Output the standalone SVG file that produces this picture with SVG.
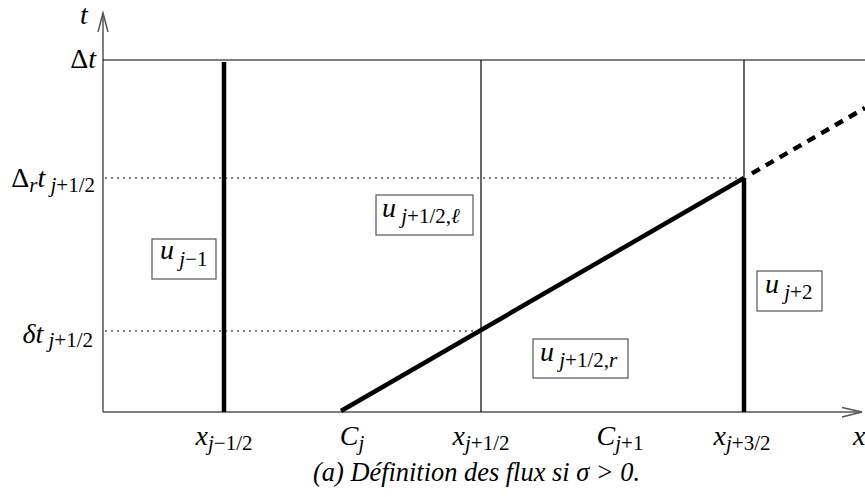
<svg xmlns="http://www.w3.org/2000/svg" width="865" height="497" viewBox="0 0 865 497">
<style>
.axis{stroke:#555;stroke-width:1.5;fill:none}
.thin{stroke:#000;stroke-width:1.2;fill:none}
.thick{stroke:#000;stroke-width:4.5;fill:none}
.dot{stroke:#000;stroke-width:1;stroke-dasharray:2 4;fill:none}
.dash{stroke:#000;stroke-width:4.5;stroke-dasharray:9 7;fill:none}
.box{fill:#fff;stroke:#555;stroke-width:1.2}
.L{font-family:'Liberation Serif',serif;font-size:28px}
.sb{font-size:21px}
.it{font-style:italic}
</style>
<rect width="865" height="497" fill="#fff"/>
<g id="connectors">
<line class="axis" x1="103" y1="412" x2="103" y2="13"/>
<polyline class="axis" points="98,32 103,13 108,32"/>
<line class="axis" x1="103" y1="412" x2="862" y2="412"/>
<polyline class="axis" points="842,407.5 862,412 842,417"/>
<line class="thin" x1="103" y1="60" x2="865" y2="60"/>
<line class="dot" x1="105" y1="178" x2="744" y2="178"/>
<line class="dot" x1="105" y1="331" x2="481" y2="331"/>
<line class="thin" x1="481" y1="60" x2="481" y2="412"/>
<line class="thin" x1="744" y1="60" x2="744" y2="178"/>
<line class="thick" x1="224" y1="62" x2="224" y2="412"/>
<line class="thick" x1="744" y1="178" x2="744" y2="412"/>
<line class="thick" x1="341" y1="411" x2="744" y2="178"/>
<line class="dash" x1="752" y1="173.4" x2="865" y2="108"/>
</g>
<g id="labels" class="L">
<text class="it" x="80" y="24">t</text>
<text x="96" y="68" text-anchor="end">Δ<tspan class="it">t</tspan></text>
<text x="95" y="187" text-anchor="end">Δ<tspan class="it sb" dy="5">r</tspan><tspan class="it" dy="-5">t</tspan><tspan class="it sb" dy="5"> j</tspan><tspan class="sb">+1/2</tspan></text>
<text x="93" y="343" text-anchor="end"><tspan class="it">δt</tspan><tspan class="it sb" dy="4"> j</tspan><tspan class="sb">+1/2</tspan></text>
<text x="224" y="445" text-anchor="middle"><tspan class="it">x</tspan><tspan class="it sb" dy="5">j</tspan><tspan class="sb">−1/2</tspan></text>
<text x="352" y="445" text-anchor="middle"><tspan class="it">C</tspan><tspan class="it sb" dy="5">j</tspan></text>
<text x="481" y="445" text-anchor="middle"><tspan class="it">x</tspan><tspan class="it sb" dy="5">j</tspan><tspan class="sb">+1/2</tspan></text>
<text x="620" y="445" text-anchor="middle"><tspan class="it">C</tspan><tspan class="it sb" dy="5">j</tspan><tspan class="sb">+1</tspan></text>
<text x="742" y="445" text-anchor="middle"><tspan class="it">x</tspan><tspan class="it sb" dy="5">j</tspan><tspan class="sb">+3/2</tspan></text>
<text class="it" x="853" y="445">x</text>
</g>
<g id="node-u-jm1" class="L">
<rect class="box" x="152" y="239" width="64" height="40"/>
<text x="160" y="259"><tspan class="it">u</tspan><tspan class="it sb" dy="7"> j</tspan><tspan class="sb">−1</tspan></text>
</g>
<g id="node-u-l" class="L">
<rect class="box" x="376" y="195" width="97" height="40"/>
<text x="382" y="217"><tspan class="it">u</tspan><tspan class="it sb" dy="6"> j</tspan><tspan class="sb">+1/2,</tspan><tspan class="it sb">ℓ</tspan></text>
</g>
<g id="node-u-r" class="L">
<rect class="box" x="533" y="339" width="95" height="39"/>
<text x="540" y="361"><tspan class="it">u</tspan><tspan class="it sb" dy="6"> j</tspan><tspan class="sb">+1/2,</tspan><tspan class="it sb">r</tspan></text>
</g>
<g id="node-u-jp2" class="L">
<rect class="box" x="757" y="271" width="65" height="40"/>
<text x="765" y="293"><tspan class="it">u</tspan><tspan class="it sb" dy="6"> j</tspan><tspan class="sb">+2</tspan></text>
</g>
<g id="caption" class="L">
<text class="it" x="313" y="481" textLength="327" lengthAdjust="spacingAndGlyphs">(a) Définition des flux si σ &gt; 0.</text>
</g>
</svg>
